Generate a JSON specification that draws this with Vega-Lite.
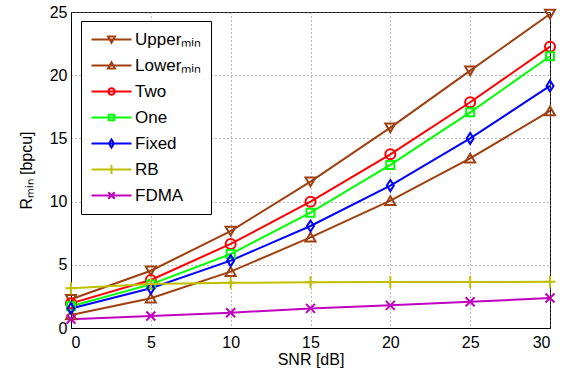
{
  "$schema": "https://vega.github.io/schema/vega-lite/v6.json",
  "width": 479,
  "height": 316,
  "autosize": "none",
  "padding": {"left": 71, "top": 12, "right": 21, "bottom": 45},
  "background": "white",
  "config": {
    "view": {"stroke": "black", "strokeWidth": 1},
    "font": "Liberation Sans"
  },
  "data": {
    "values": [
      {"snr": 0, "series": "Upperₘᵢₙ", "value": 2.27},
      {"snr": 5, "series": "Upperₘᵢₙ", "value": 4.53},
      {"snr": 10, "series": "Upperₘᵢₙ", "value": 7.67},
      {"snr": 15, "series": "Upperₘᵢₙ", "value": 11.58},
      {"snr": 20, "series": "Upperₘᵢₙ", "value": 15.85},
      {"snr": 25, "series": "Upperₘᵢₙ", "value": 20.36},
      {"snr": 30, "series": "Upperₘᵢₙ", "value": 24.84},
      {"snr": 0, "series": "Lowerₘᵢₙ", "value": 1.03},
      {"snr": 5, "series": "Lowerₘᵢₙ", "value": 2.35},
      {"snr": 10, "series": "Lowerₘᵢₙ", "value": 4.46},
      {"snr": 15, "series": "Lowerₘᵢₙ", "value": 7.17},
      {"snr": 20, "series": "Lowerₘᵢₙ", "value": 10.07},
      {"snr": 25, "series": "Lowerₘᵢₙ", "value": 13.42},
      {"snr": 30, "series": "Lowerₘᵢₙ", "value": 17.17},
      {"snr": 0, "series": "Two", "value": 1.95},
      {"snr": 5, "series": "Two", "value": 3.8},
      {"snr": 10, "series": "Two", "value": 6.65},
      {"snr": 15, "series": "Two", "value": 9.99},
      {"snr": 20, "series": "Two", "value": 13.74},
      {"snr": 25, "series": "Two", "value": 17.86},
      {"snr": 30, "series": "Two", "value": 22.26},
      {"snr": 0, "series": "One", "value": 1.72},
      {"snr": 5, "series": "One", "value": 3.45},
      {"snr": 10, "series": "One", "value": 5.85},
      {"snr": 15, "series": "One", "value": 9.12},
      {"snr": 20, "series": "One", "value": 12.9},
      {"snr": 25, "series": "One", "value": 17.06},
      {"snr": 30, "series": "One", "value": 21.5},
      {"snr": 0, "series": "Fixed", "value": 1.55},
      {"snr": 5, "series": "Fixed", "value": 3.14},
      {"snr": 10, "series": "Fixed", "value": 5.33},
      {"snr": 15, "series": "Fixed", "value": 8.07},
      {"snr": 20, "series": "Fixed", "value": 11.27},
      {"snr": 25, "series": "Fixed", "value": 15.0},
      {"snr": 30, "series": "Fixed", "value": 19.15},
      {"snr": 0, "series": "RB", "value": 3.14},
      {"snr": 5, "series": "RB", "value": 3.48},
      {"snr": 10, "series": "RB", "value": 3.58},
      {"snr": 15, "series": "RB", "value": 3.61},
      {"snr": 20, "series": "RB", "value": 3.63},
      {"snr": 25, "series": "RB", "value": 3.63},
      {"snr": 30, "series": "RB", "value": 3.65},
      {"snr": 0, "series": "FDMA", "value": 0.69},
      {"snr": 5, "series": "FDMA", "value": 0.95},
      {"snr": 10, "series": "FDMA", "value": 1.21},
      {"snr": 15, "series": "FDMA", "value": 1.55},
      {"snr": 20, "series": "FDMA", "value": 1.79},
      {"snr": 25, "series": "FDMA", "value": 2.08},
      {"snr": 30, "series": "FDMA", "value": 2.37}
    ]
  },
  "encoding": {
    "x": {
      "field": "snr", "type": "quantitative",
      "scale": {"domain": [0, 30], "nice": false},
      "axis": {
        "values": [0, 5, 10, 15, 20, 25, 30],
        "title": "SNR  [dB]",
        "titleFont": "Liberation Sans", "titleFontSize": 16, "titleFontWeight": "normal", "titleColor": "black", "titlePadding": 1,
        "labelFont": "Liberation Sans", "labelFontSize": 16, "labelColor": "black", "labelPadding": 6,
        "ticks": false, "domainColor": "black",
        "grid": true, "gridColor": "#777", "gridDash": [1, 3], "gridWidth": 1
      }
    },
    "y": {
      "field": "value", "type": "quantitative",
      "scale": {"domain": [0, 25], "nice": false},
      "axis": {
        "values": [0, 5, 10, 15, 20, 25],
        "title": "Rₘᵢₙ  [bpcu]",
        "titleFont": "Liberation Sans", "titleFontSize": 16, "titleFontWeight": "normal", "titleColor": "black", "titlePadding": 15,
        "labelFont": "Liberation Sans", "labelFontSize": 16, "labelColor": "black", "labelPadding": 4,
        "ticks": false, "domainColor": "black",
        "grid": true, "gridColor": "#777", "gridDash": [1, 3], "gridWidth": 1
      }
    }
  },
  "layer": [
    {
      "mark": {"type": "line", "strokeWidth": 2},
      "encoding": {
        "color": {
          "field": "series", "type": "nominal",
          "scale": {
            "domain": ["Upperₘᵢₙ", "Lowerₘᵢₙ", "Two", "One", "Fixed", "RB", "FDMA"],
            "range": ["#a0400f", "#a0400f", "#ff0000", "#00ff00", "#0000ff", "#bfbf00", "#bf00bf"]
          },
          "legend": null
        }
      }
    },
    {
      "mark": {"type": "point", "filled": false, "strokeWidth": 2, "size": 100, "opacity": 1},
      "encoding": {
        "color": {
          "field": "series", "type": "nominal",
          "scale": {
            "domain": ["Upperₘᵢₙ", "Lowerₘᵢₙ", "Two", "One", "Fixed", "RB", "FDMA"],
            "range": ["#a0400f", "#a0400f", "#ff0000", "#00ff00", "#0000ff", "#bfbf00", "#bf00bf"]
          },
          "legend": null
        },
        "shape": {
          "field": "series", "type": "nominal",
          "scale": {
            "domain": ["Upperₘᵢₙ", "Lowerₘᵢₙ", "Two", "One", "Fixed", "RB", "FDMA"],
            "range": [
              "M-1,-0.85L1,-0.85L0,0.9Z",
              "M-1,0.85L1,0.85L0,-0.9Z",
              "circle",
              "M-0.8,-0.8L0.8,-0.8L0.8,0.8L-0.8,0.8Z",
              "M0,-1.1L0.7,0L0,1.1L-0.7,0Z",
              "M-1.1,0H1.1M0,-1.2V1.2",
              "M-0.9,-0.9L0.9,0.9M-0.9,0.9L0.9,-0.9"
            ]
          },
          "legend": null
        }
      }
    },
    {
      "transform": [{"filter": "false"}],
      "mark": {"type": "point", "filled": false, "strokeWidth": 2, "size": 100, "opacity": 1},
      "encoding": {
        "color": {
          "field": "series", "type": "nominal",
          "scale": {
            "domain": ["Upperₘᵢₙ", "Lowerₘᵢₙ", "Two", "One", "Fixed", "RB", "FDMA"],
            "range": ["#a0400f", "#a0400f", "#ff0000", "#00ff00", "#0000ff", "#bfbf00", "#bf00bf"]
          },
          "legend": {
            "title": null,
            "orient": "none",
            "legendX": 10,
            "legendY": 9,
            "padding": 10,
            "strokeColor": "black",
            "fillColor": "white",
            "cornerRadius": 0,
            "labelFont": "Liberation Sans",
            "labelFontSize": 17,
            "labelColor": "black",
            "labelLimit": 300,
            "labelOffset": 27,
            "rowPadding": 8,
            "symbolSize": 100,
            "symbolStrokeWidth": 2,
            "symbolFillColor": "transparent"
          }
        },
        "shape": {
          "field": "series", "type": "nominal",
          "scale": {
            "domain": ["Upperₘᵢₙ", "Lowerₘᵢₙ", "Two", "One", "Fixed", "RB", "FDMA"],
            "range": [
              "M-1.6,0H6.4M1.7,-0.6L3.1,-0.6L2.4,0.65Z",
              "M-1.6,0H6.4M1.7,0.6L3.1,0.6L2.4,-0.65Z",
              "M-1.6,0H6.4M1.75,0A0.65,0.65 0 1,0 3.05,0A0.65,0.65 0 1,0 1.75,0Z",
              "M-1.6,0H6.4M1.85,-0.55L2.95,-0.55L2.95,0.55L1.85,0.55Z",
              "M-1.6,0H6.4M2.4,-0.8L2.9,0L2.4,0.8L1.9,0Z",
              "M-1.6,0H6.4M2.4,-0.9V0.9",
              "M-1.6,0H6.4M1.75,-0.65L3.05,0.65M1.75,0.65L3.05,-0.65"
            ]
          },
          "legend": {
            "title": null,
            "orient": "none",
            "legendX": 10,
            "legendY": 9,
            "padding": 10,
            "strokeColor": "black",
            "fillColor": "white",
            "cornerRadius": 0,
            "labelFont": "Liberation Sans",
            "labelFontSize": 17,
            "labelColor": "black",
            "labelLimit": 300,
            "labelOffset": 27,
            "rowPadding": 8,
            "symbolSize": 100,
            "symbolStrokeWidth": 2,
            "symbolFillColor": "transparent"
          }
        }
      }
    }
  ],
  "resolve": {"scale": {"shape": "independent", "color": "independent"}}
}
